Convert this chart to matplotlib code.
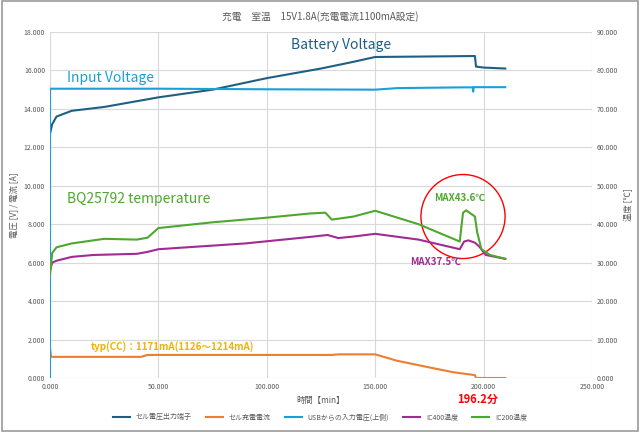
import matplotlib
matplotlib.use("Agg")
import matplotlib.pyplot as plt
from matplotlib.patches import Ellipse

plt.rcParams['font.family'] = ['Noto Sans CJK JP', 'DejaVu Sans']

t_bat = [0, 1, 3, 10, 25, 50, 75, 100, 125, 140, 150, 196, 196.5, 200, 210]
v_bat = [12.7, 13.2, 13.6, 13.9, 14.1, 14.6, 15.0, 15.6, 16.1, 16.45, 16.7, 16.75, 16.2, 16.15, 16.1]
t_in = [0, 0.01, 50, 100, 150, 160, 190, 195, 195.2, 195.4, 210]
v_in = [0, 15.05, 15.05, 15.02, 15.0, 15.08, 15.12, 15.12, 14.9, 15.13, 15.13]
t_cur = [0, 0.5, 1, 42, 45, 130, 133, 150, 160, 175, 186, 196, 196.5, 210]
i_cur = [1.55, 1.1, 1.1, 1.1, 1.2, 1.2, 1.23, 1.23, 0.9, 0.55, 0.3, 0.15, 0.0, 0.0]
t_green = [0, 1, 3, 10, 25, 40, 45, 50, 75, 100, 120, 127, 130, 140, 150, 170, 189, 190.5, 192, 196, 197, 199, 203, 210]
g_temp = [26.8, 32.5, 34.0, 35.0, 36.2, 36.0, 36.5, 39.0, 40.5, 41.7, 42.8, 43.0, 41.2, 42.0, 43.5, 40.0, 35.5, 43.0, 43.6, 42.0, 38.0, 33.5, 32.0, 31.0]
t_purple = [0, 1, 3, 10, 20, 40, 45, 50, 90, 120, 128, 133, 140, 150, 170, 189, 191, 193, 196, 198, 201, 210]
p_temp = [28.0, 30.0, 30.5, 31.5, 32.0, 32.3, 32.8, 33.5, 35.0, 36.7, 37.2, 36.4, 36.8, 37.5, 36.0, 33.5, 35.5, 35.8, 35.2, 34.2, 32.0, 31.0]

c_bat, c_cur, c_in, c_p, c_g = '#1f5f84', '#ed7d31', '#1aa0d8', '#a02b93', '#4ea72e'

fig = plt.figure(figsize=(6.4, 4.32), dpi=100)
fig.patches.append(plt.Rectangle((0.003, 0.003), 0.994, 0.994, transform=fig.transFigure,
                                 fill=False, edgecolor='#999999', lw=1.2))
ax = fig.add_axes([50/640, 1-378/432, 542/640, 346/432])
ax2 = ax.twinx()
l1, = ax.plot(t_bat, v_bat, color=c_bat, lw=1.5, label='セル電圧出力端子')
l2, = ax.plot(t_cur, i_cur, color=c_cur, lw=1.5, label='セル充電電流')
l3, = ax.plot(t_in, v_in, color=c_in, lw=1.5, label='USBからの入力電圧(上側)')
l4, = ax2.plot(t_purple, p_temp, color=c_p, lw=1.5, label='IC400温度')
l5, = ax2.plot(t_green, g_temp, color=c_g, lw=1.5, label='IC200温度')

ax.set_xlim(0, 250); ax.set_ylim(0, 18); ax2.set_ylim(0, 90)
ax.set_xticks(range(0, 251, 50)); ax.set_xticklabels([f'{v:.3f}' for v in range(0, 251, 50)])
ax.set_yticks(range(0, 19, 2)); ax.set_yticklabels([f'{v:.3f}' for v in range(0, 19, 2)])
ax2.set_yticks(range(0, 91, 10)); ax2.set_yticklabels([f'{v:.3f}' for v in range(0, 91, 10)])
for a in (ax, ax2):
    a.tick_params(labelsize=5, colors='#595959', length=0)
    for s in a.spines.values():
        s.set_visible(False)
ax.grid(True, color='#d9d9d9', lw=0.8)
ax.set_axisbelow(True)
ax.set_xlabel('時間【min】', fontsize=6, color='#595959')
ax.set_ylabel('電圧 [V] / 電流 [A]', fontsize=6, color='#595959')
ax2.set_ylabel('温度 [℃]', fontsize=6, color='#595959')
fig.suptitle('充電　室温　15V1.8A(充電電流1100mA設定)', fontsize=7, color='#595959', y=0.975)

ax.text(111, 17.1, 'Battery Voltage', color=c_bat, fontsize=10)
ax.text(8, 15.4, 'Input Voltage', color=c_in, fontsize=10)
ax.text(8, 9.1, 'BQ25792 temperature', color=c_g, fontsize=10)
ax.text(19, 1.45, 'typ(CC)：1171mA(1126～1214mA)', color='#f5b000', fontsize=7, fontweight='bold')
ax2.text(177, 46, 'MAX43.6℃', color=c_g, fontsize=7, fontweight='bold')
ax2.text(166, 29.3, 'MAX37.5℃', color=c_p, fontsize=7, fontweight='bold')
ax.add_patch(Ellipse((190.5, 8.4), 38.8, 4.37, fill=False, edgecolor='red', lw=1))
ax.text(188, -1.3, '196.2分', color='red', fontsize=8, fontweight='bold', clip_on=False)

fig.legend(handles=[l1, l2, l3, l4, l5], loc='lower center', ncol=5, fontsize=5,
           frameon=False, bbox_to_anchor=(0.5, 0.01), handlelength=2.5, labelcolor='#595959')
fig.savefig('out.png', dpi=100)
